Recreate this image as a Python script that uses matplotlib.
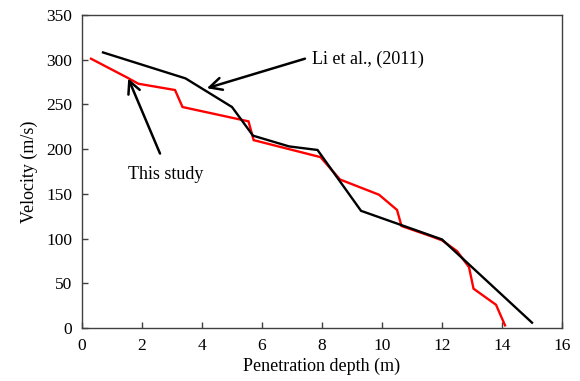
import matplotlib
matplotlib.use("Agg")
import matplotlib.pyplot as plt

# Penetration depth (m) vs velocity (m/s)
study_depth = [0.3, 1.5, 1.88, 3.1, 3.35, 5.55, 5.72, 7.95, 8.6, 9.9, 10.5, 10.65, 11.6, 12.0, 12.5, 12.9, 13.05, 13.8, 14.1]
study_vel = [301, 280, 273, 266, 247, 231, 210, 191, 166, 149, 132, 114, 103, 98, 86, 68, 44, 26, 3]

li_depth = [0.7, 3.45, 5.0, 5.7, 6.9, 7.85, 9.3, 12.0, 15.0]
li_vel = [308, 279, 247, 215, 203, 199, 131, 99, 6]

x_ticks = [0, 2, 4, 6, 8, 10, 12, 14, 16]
y_ticks = [0, 50, 100, 150, 200, 250, 300, 350]

plt.rcParams['font.family'] = ['Liberation Serif', 'DejaVu Serif']
plt.rcParams['font.size'] = 13

fig = plt.figure(figsize=(5.8, 3.81), dpi=100)
ax = fig.add_axes([0.1414, 0.139, 0.8276, 0.822])

ax.plot(study_depth, study_vel, color='#ff0000', lw=1.7, solid_joinstyle='miter')
ax.plot(li_depth, li_vel, color='black', lw=1.7, solid_joinstyle='miter')

ax.set_xlim(0, 16)
ax.set_ylim(0, 350)
ax.set_xticks(x_ticks)
ax.set_yticks(y_ticks)
ax.tick_params(direction='in', length=4, width=1, color='#404040', pad=7, labelsize=12.5)
for s in ax.spines.values():
    s.set_color('#404040')
    s.set_linewidth(1.0)

ax.set_xlabel('Penetration depth (m)', labelpad=3)
ax.set_ylabel('Velocity (m/s)', labelpad=6)

arrow = dict(arrowstyle='->', lw=1.8, color='black', mutation_scale=22, shrinkA=0, shrinkB=0)
ax.annotate('', xy=(4.16, 268), xytext=(7.43, 301), arrowprops=arrow)
ax.text(7.65, 300, 'Li et al., (2011)', ha='left', va='center')
ax.annotate('', xy=(1.54, 279), xytext=(2.6, 195), arrowprops=arrow)
ax.text(2.78, 172, 'This study', ha='center', va='center')

fig.savefig('out.png', dpi=100)
